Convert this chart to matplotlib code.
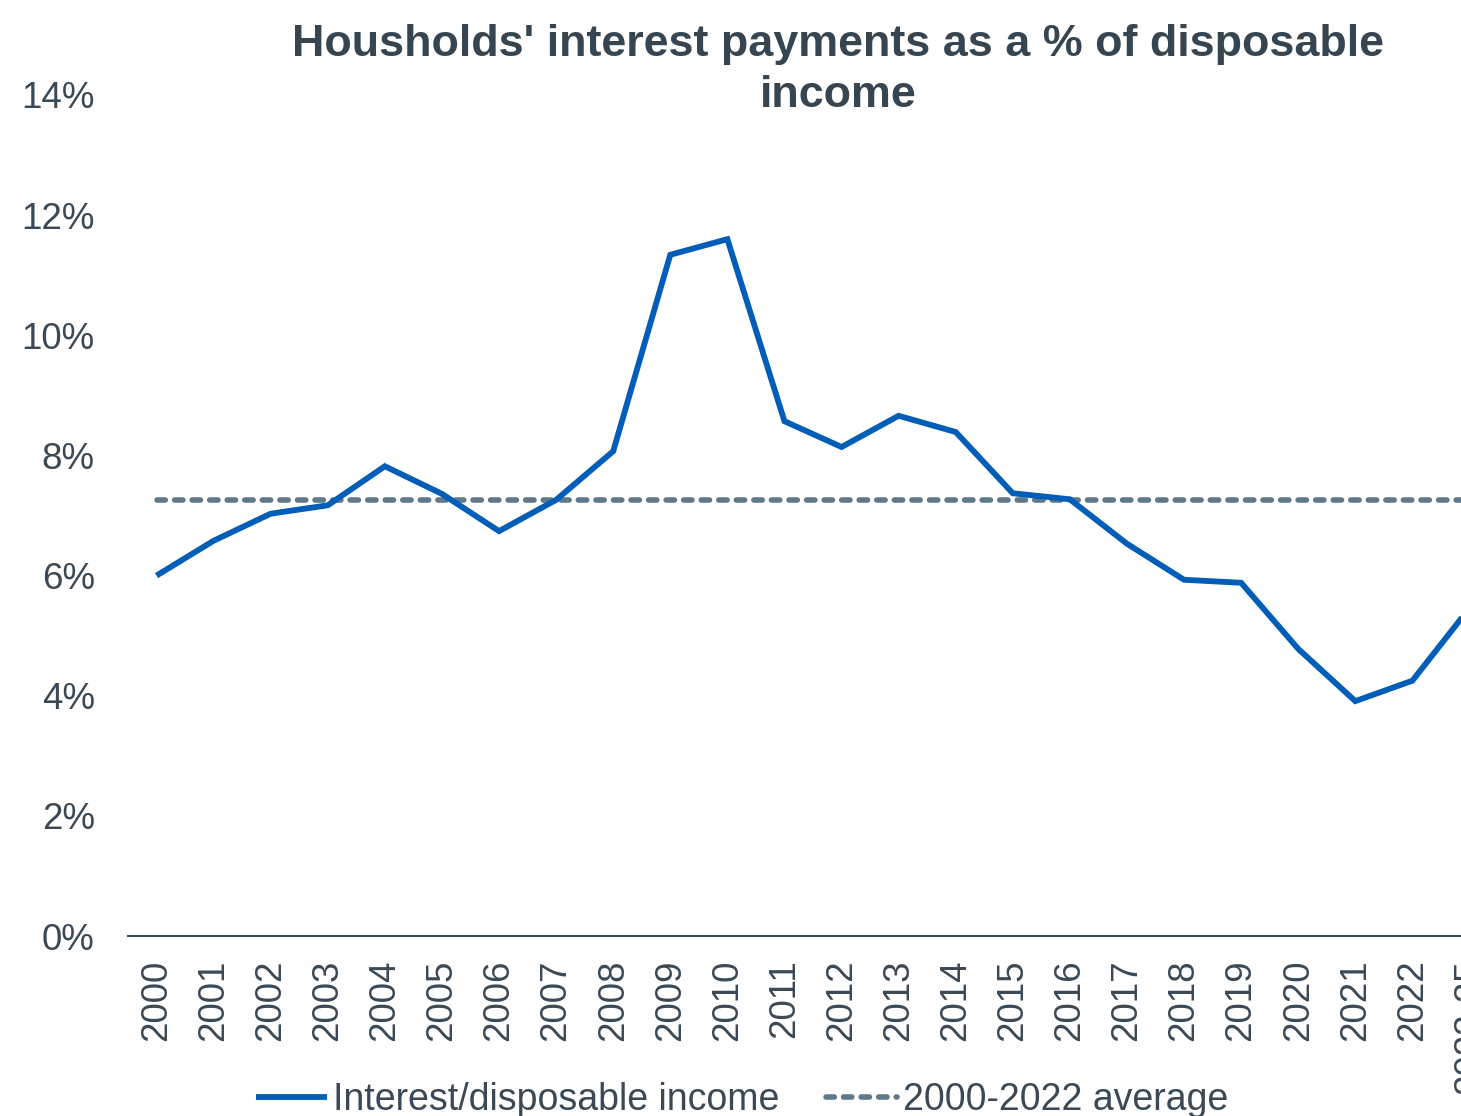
import matplotlib
matplotlib.use("Agg")
import matplotlib.pyplot as plt
from matplotlib.ticker import FuncFormatter

plt.rcParams['font.family'] = ['Liberation Sans', 'DejaVu Sans']

categories = ["2000", "2001", "2002", "2003", "2004", "2005", "2006", "2007",
              "2008", "2009", "2010", "2011", "2012", "2013", "2014", "2015",
              "2016", "2017", "2018", "2019", "2020", "2021", "2022", "2023-25"]
interest_share = [6.00, 6.58, 7.03, 7.17, 7.82, 7.36, 6.74, 7.26,
                  8.07, 11.34, 11.60, 8.57, 8.14, 8.66, 8.39, 7.37,
                  7.27, 6.53, 5.93, 5.88, 4.78, 3.91, 4.25, 5.46]
average_value = 7.25
average_line = [average_value] * len(categories)
y_ticks = [0, 2, 4, 6, 8, 10, 12, 14]

TEXT = "#3A4955"
TITLE = "#36454F"
BLUE = "#005EB8"
GREY = "#5F788A"

fig = plt.figure(figsize=(14.61, 11.16), dpi=100)
ax = fig.add_axes([128/1461, 1 - 936/1116, (1498 - 128)/1461, (936 - 95)/1116])

x = list(range(len(categories)))
ax.plot(x, interest_share, color=BLUE, lw=4.2, solid_joinstyle='miter',
        solid_capstyle='butt',
        label="Interest/disposable income", zorder=3, clip_on=False)
ax.plot(x, average_line, color=GREY, lw=4.0, linestyle=(0, (1.5, 1.66)),
        dash_capstyle='round', label="2000-2022 average", zorder=2)

ax.set_xlim(-0.5, len(categories) - 0.5)
ax.set_ylim(0, 14)
ax.set_yticks(y_ticks)
ax.yaxis.set_major_formatter(FuncFormatter(lambda v, p: f"{v:.0f}%"))
ax.set_xticks(x)
ax.set_xticklabels(categories, rotation=90, va='top', ha='center')

for s in ['top', 'right', 'left']:
    ax.spines[s].set_visible(False)
ax.spines['bottom'].set_color(TEXT)
ax.spines['bottom'].set_linewidth(1.5)
ax.tick_params(axis='both', length=0, labelsize=26.5, labelcolor=TEXT)
ax.tick_params(axis='x', pad=17)
ax.tick_params(axis='y', pad=24)

fig.text(838/1461, 1 - 56/1116, "Housholds' interest payments as a % of disposable",
         ha='center', va='baseline', fontsize=32.3, fontweight='bold', color=TITLE)
fig.text(838/1461, 1 - 107/1116, "income",
         ha='center', va='baseline', fontsize=32.3, fontweight='bold', color=TITLE)

leg = fig.legend(loc='center', bbox_to_anchor=(742/1461, 1 - 1100/1116),
                 ncol=2, frameon=False, fontsize=27, handlelength=1.9,
                 handletextpad=0.15, columnspacing=1.25)
for t in leg.get_texts():
    t.set_color(TEXT)

fig.savefig("out.png", dpi=100)
